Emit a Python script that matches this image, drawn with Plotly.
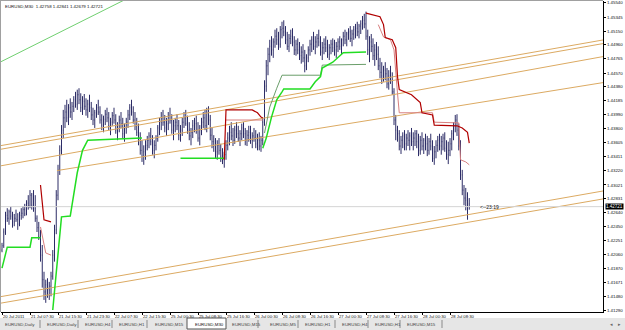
import plotly.graph_objects as go

# ---------------- data (EURUSD, M30 bars) ----------------
bar_open = [
    1.4212, 1.4218, 1.4237, 1.4260, 1.4256, 1.4265, 1.4259, 1.4251, 1.4256, 1.4254,
    1.4248, 1.4260, 1.4263, 1.4268, 1.4262, 1.4277, 1.4273, 1.4288, 1.4274, 1.4270,
    1.4256, 1.4243, 1.4231, 1.4205, 1.4171, 1.4154, 1.4164, 1.4157, 1.4162, 1.4176,
    1.4205, 1.4240, 1.4288, 1.4323, 1.4350, 1.4378, 1.4395, 1.4403, 1.4395, 1.4409,
    1.4403, 1.4411, 1.4420, 1.4414, 1.4427, 1.4420, 1.4409, 1.4418, 1.4411, 1.4406,
    1.4414, 1.4409, 1.4399, 1.4392, 1.4402, 1.4409, 1.4403, 1.4392, 1.4385, 1.4393,
    1.4400, 1.4395, 1.4384, 1.4389, 1.4398, 1.4392, 1.4378, 1.4384, 1.4392, 1.4387,
    1.4373, 1.4381, 1.4389, 1.4399, 1.4409, 1.4403, 1.4392, 1.4384, 1.4375, 1.4364,
    1.4350, 1.4342, 1.4348, 1.4357, 1.4364, 1.4370, 1.4362, 1.4350, 1.4357, 1.4367,
    1.4381, 1.4389, 1.4395, 1.4389, 1.4381, 1.4387, 1.4398, 1.4392, 1.4378, 1.4384,
    1.4389, 1.4384, 1.4371, 1.4378, 1.4389, 1.4395, 1.4387, 1.4378, 1.4370, 1.4375,
    1.4384, 1.4387, 1.4378, 1.4367, 1.4378, 1.4389, 1.4395, 1.4384, 1.4403, 1.4392,
    1.4371, 1.4362, 1.4356, 1.4348, 1.4357, 1.4350, 1.4342, 1.4337, 1.4344, 1.4357,
    1.4367, 1.4375, 1.4370, 1.4364, 1.4378, 1.4373, 1.4367, 1.4373, 1.4381, 1.4373,
    1.4364, 1.4371, 1.4375, 1.4364, 1.4370, 1.4367, 1.4359, 1.4364, 1.4356, 1.4364,
    1.4389, 1.4439, 1.4467, 1.4483, 1.4494, 1.4489, 1.4500, 1.4508, 1.4503, 1.4497,
    1.4517, 1.4519, 1.4514, 1.4503, 1.4494, 1.4505, 1.4508, 1.4500, 1.4489, 1.4497,
    1.4489, 1.4481, 1.4486, 1.4478, 1.4467, 1.4478, 1.4489, 1.4497, 1.4503, 1.4494,
    1.4500, 1.4505, 1.4500, 1.4486, 1.4492, 1.4497, 1.4492, 1.4483, 1.4492, 1.4497,
    1.4492, 1.4489, 1.4494, 1.4500, 1.4494, 1.4503, 1.4508, 1.4503, 1.4511, 1.4514,
    1.4505, 1.4511, 1.4517, 1.4519, 1.4514, 1.4522, 1.4525, 1.4530, 1.4525, 1.4508,
    1.4489, 1.4500, 1.4494, 1.4481, 1.4489, 1.4483, 1.4467, 1.4458, 1.4453, 1.4461,
    1.4456, 1.4442, 1.4453, 1.4447, 1.4431, 1.4392, 1.4378, 1.4373, 1.4356, 1.4364,
    1.4370, 1.4359, 1.4367, 1.4364, 1.4370, 1.4362, 1.4367, 1.4373, 1.4362, 1.4350,
    1.4364, 1.4356, 1.4364, 1.4359, 1.4350, 1.4362, 1.4356, 1.4339, 1.4348, 1.4357,
    1.4364, 1.4356, 1.4362, 1.4367, 1.4353, 1.4344, 1.4350, 1.4359, 1.4373, 1.4384,
    1.4392, 1.4378, 1.4356, 1.4316, 1.4295, 1.4284, 1.4281, 1.42758,
]
bar_high = [
    1.4222, 1.4242, 1.4265, 1.4270, 1.4268, 1.4272, 1.4265, 1.4262, 1.4268, 1.4263,
    1.4265, 1.4270, 1.4273, 1.4276, 1.4281, 1.4288, 1.4295, 1.4291, 1.4295, 1.4288,
    1.4260, 1.4251, 1.4240, 1.4219, 1.4182, 1.4171, 1.4173, 1.4168, 1.4182, 1.4212,
    1.4247, 1.4295, 1.4330, 1.4357, 1.4385, 1.4406, 1.4413, 1.4420, 1.4414, 1.4422,
    1.4417, 1.4425, 1.4431, 1.4434, 1.4436, 1.4429, 1.4425, 1.4428, 1.4422, 1.4420,
    1.4427, 1.4417, 1.4409, 1.4406, 1.4414, 1.4420, 1.4411, 1.4400, 1.4398, 1.4406,
    1.4409, 1.4403, 1.4395, 1.4403, 1.4409, 1.4400, 1.4389, 1.4398, 1.4403, 1.4395,
    1.4387, 1.4395, 1.4406, 1.4414, 1.4420, 1.4411, 1.4403, 1.4395, 1.4387, 1.4375,
    1.4364, 1.4357, 1.4364, 1.4370, 1.4375, 1.4381, 1.4371, 1.4364, 1.4371, 1.4385,
    1.4395, 1.4403, 1.4406, 1.4399, 1.4395, 1.4403, 1.4409, 1.4400, 1.4392, 1.4395,
    1.4400, 1.4392, 1.4385, 1.4395, 1.4403, 1.4406, 1.4398, 1.4389, 1.4381, 1.4392,
    1.4395, 1.4398, 1.4389, 1.4385, 1.4395, 1.4403, 1.4406, 1.4409, 1.4411, 1.4399,
    1.4381, 1.4371, 1.4367, 1.4364, 1.4367, 1.4359, 1.4353, 1.4348, 1.4364, 1.4375,
    1.4384, 1.4389, 1.4381, 1.4384, 1.4389, 1.4384, 1.4378, 1.4387, 1.4389, 1.4381,
    1.4378, 1.4384, 1.4384, 1.4375, 1.4381, 1.4378, 1.4373, 1.4375, 1.4370, 1.4395,
    1.4447, 1.4475, 1.4492, 1.4503, 1.4508, 1.4505, 1.4517, 1.4519, 1.4514, 1.4522,
    1.4528, 1.4530, 1.4522, 1.4514, 1.4511, 1.4517, 1.4519, 1.4508, 1.4503, 1.4505,
    1.4500, 1.4494, 1.4497, 1.4489, 1.4483, 1.4494, 1.4503, 1.4508, 1.4514, 1.4508,
    1.4511, 1.4517, 1.4508, 1.4500, 1.4505, 1.4508, 1.4503, 1.4497, 1.4503, 1.4505,
    1.4503, 1.4500, 1.4505, 1.4508, 1.4505, 1.4514, 1.4517, 1.4514, 1.4519, 1.4522,
    1.4517, 1.4522, 1.4525, 1.4528, 1.4525, 1.4530, 1.4536, 1.4539, 1.4542, 1.4517,
    1.4508, 1.4511, 1.4505, 1.4497, 1.4500, 1.4494, 1.4478, 1.4472, 1.4467, 1.4472,
    1.4464, 1.4461, 1.4467, 1.4458, 1.4436, 1.4399, 1.4384, 1.4378, 1.4370, 1.4375,
    1.4378, 1.4373, 1.4378, 1.4375, 1.4381, 1.4375, 1.4378, 1.4378, 1.4373, 1.4370,
    1.4375, 1.4367, 1.4373, 1.4370, 1.4367, 1.4373, 1.4364, 1.4356, 1.4364, 1.4370,
    1.4373, 1.4370, 1.4373, 1.4375, 1.4364, 1.4362, 1.4367, 1.4378, 1.4389, 1.4399,
    1.4400, 1.4387, 1.4364, 1.4323, 1.4302, 1.4298, 1.4292, 1.42840,
]
bar_low = [
    1.4209, 1.4215, 1.4233, 1.4251, 1.4247, 1.4254, 1.4243, 1.4245, 1.4251, 1.4240,
    1.4245, 1.4254, 1.4256, 1.4259, 1.4260, 1.4268, 1.4270, 1.4268, 1.4265, 1.4251,
    1.4237, 1.4226, 1.4196, 1.4160, 1.4143, 1.4139, 1.4146, 1.4143, 1.4148, 1.4171,
    1.4196, 1.4234, 1.4281, 1.4316, 1.4344, 1.4367, 1.4381, 1.4389, 1.4385, 1.4395,
    1.4392, 1.4403, 1.4409, 1.4406, 1.4414, 1.4403, 1.4399, 1.4406, 1.4398, 1.4395,
    1.4403, 1.4392, 1.4385, 1.4381, 1.4395, 1.4399, 1.4387, 1.4378, 1.4375, 1.4385,
    1.4389, 1.4378, 1.4371, 1.4384, 1.4387, 1.4373, 1.4364, 1.4375, 1.4381, 1.4367,
    1.4362, 1.4373, 1.4381, 1.4392, 1.4398, 1.4387, 1.4378, 1.4370, 1.4357, 1.4344,
    1.4334, 1.4330, 1.4337, 1.4350, 1.4353, 1.4357, 1.4344, 1.4339, 1.4350, 1.4362,
    1.4371, 1.4378, 1.4384, 1.4375, 1.4370, 1.4378, 1.4387, 1.4373, 1.4364, 1.4375,
    1.4378, 1.4364, 1.4362, 1.4370, 1.4381, 1.4384, 1.4373, 1.4364, 1.4357, 1.4367,
    1.4375, 1.4373, 1.4362, 1.4357, 1.4371, 1.4381, 1.4378, 1.4375, 1.4385, 1.4364,
    1.4353, 1.4348, 1.4339, 1.4337, 1.4344, 1.4334, 1.4331, 1.4326, 1.4337, 1.4350,
    1.4357, 1.4364, 1.4356, 1.4359, 1.4367, 1.4362, 1.4356, 1.4364, 1.4367, 1.4357,
    1.4356, 1.4362, 1.4359, 1.4353, 1.4362, 1.4353, 1.4350, 1.4350, 1.4348, 1.4357,
    1.4384, 1.4431, 1.4454, 1.4472, 1.4481, 1.4478, 1.4492, 1.4496, 1.4489, 1.4492,
    1.4505, 1.4508, 1.4497, 1.4489, 1.4486, 1.4497, 1.4494, 1.4482, 1.4481, 1.4483,
    1.4475, 1.4470, 1.4472, 1.4458, 1.4461, 1.4472, 1.4481, 1.4486, 1.4489, 1.4483,
    1.4492, 1.4494, 1.4481, 1.4475, 1.4483, 1.4486, 1.4478, 1.4475, 1.4483, 1.4486,
    1.4481, 1.4478, 1.4486, 1.4489, 1.4483, 1.4494, 1.4497, 1.4494, 1.4503, 1.4500,
    1.4494, 1.4503, 1.4505, 1.4508, 1.4505, 1.4511, 1.4517, 1.4519, 1.4503, 1.4482,
    1.4472, 1.4486, 1.4475, 1.4467, 1.4475, 1.4461, 1.4450, 1.4442, 1.4445, 1.4447,
    1.4436, 1.4434, 1.4442, 1.4427, 1.4385, 1.4364, 1.4362, 1.4350, 1.4345, 1.4353,
    1.4350, 1.4350, 1.4356, 1.4350, 1.4356, 1.4350, 1.4356, 1.4353, 1.4342, 1.4344,
    1.4350, 1.4345, 1.4350, 1.4342, 1.4344, 1.4350, 1.4334, 1.4330, 1.4339, 1.4348,
    1.4350, 1.4344, 1.4350, 1.4348, 1.4337, 1.4331, 1.4342, 1.4350, 1.4364, 1.4375,
    1.4370, 1.4350, 1.4309, 1.4288, 1.4274, 1.4267, 1.4254, 1.42679,
]
bar_close = [
    1.4218, 1.4237, 1.4260, 1.4256, 1.4265, 1.4259, 1.4251, 1.4256, 1.4254, 1.4248,
    1.4260, 1.4263, 1.4268, 1.4262, 1.4277, 1.4273, 1.4288, 1.4274, 1.4270, 1.4256,
    1.4243, 1.4231, 1.4205, 1.4171, 1.4154, 1.4164, 1.4157, 1.4162, 1.4176, 1.4205,
    1.4240, 1.4288, 1.4323, 1.4350, 1.4378, 1.4395, 1.4403, 1.4395, 1.4409, 1.4403,
    1.4411, 1.4420, 1.4414, 1.4427, 1.4420, 1.4409, 1.4418, 1.4411, 1.4406, 1.4414,
    1.4409, 1.4399, 1.4392, 1.4402, 1.4409, 1.4403, 1.4392, 1.4385, 1.4393, 1.4400,
    1.4395, 1.4384, 1.4389, 1.4398, 1.4392, 1.4378, 1.4384, 1.4392, 1.4387, 1.4373,
    1.4381, 1.4389, 1.4399, 1.4409, 1.4403, 1.4392, 1.4384, 1.4375, 1.4364, 1.4350,
    1.4342, 1.4348, 1.4357, 1.4364, 1.4370, 1.4362, 1.4350, 1.4357, 1.4367, 1.4381,
    1.4389, 1.4395, 1.4389, 1.4381, 1.4387, 1.4398, 1.4392, 1.4378, 1.4384, 1.4389,
    1.4384, 1.4371, 1.4378, 1.4389, 1.4395, 1.4387, 1.4378, 1.4370, 1.4375, 1.4384,
    1.4387, 1.4378, 1.4367, 1.4378, 1.4389, 1.4395, 1.4384, 1.4403, 1.4392, 1.4371,
    1.4362, 1.4356, 1.4348, 1.4357, 1.4350, 1.4342, 1.4337, 1.4344, 1.4357, 1.4367,
    1.4375, 1.4370, 1.4364, 1.4378, 1.4373, 1.4367, 1.4373, 1.4381, 1.4373, 1.4364,
    1.4371, 1.4375, 1.4364, 1.4370, 1.4367, 1.4359, 1.4364, 1.4356, 1.4364, 1.4389,
    1.4439, 1.4467, 1.4483, 1.4494, 1.4489, 1.4500, 1.4508, 1.4503, 1.4497, 1.4517,
    1.4519, 1.4514, 1.4503, 1.4494, 1.4505, 1.4508, 1.4500, 1.4489, 1.4497, 1.4489,
    1.4481, 1.4486, 1.4478, 1.4467, 1.4478, 1.4489, 1.4497, 1.4503, 1.4494, 1.4500,
    1.4505, 1.4500, 1.4486, 1.4492, 1.4497, 1.4492, 1.4483, 1.4492, 1.4497, 1.4492,
    1.4489, 1.4494, 1.4500, 1.4494, 1.4503, 1.4508, 1.4503, 1.4511, 1.4514, 1.4505,
    1.4511, 1.4517, 1.4519, 1.4514, 1.4522, 1.4525, 1.4530, 1.4525, 1.4508, 1.4489,
    1.4500, 1.4494, 1.4481, 1.4489, 1.4483, 1.4467, 1.4458, 1.4453, 1.4461, 1.4456,
    1.4442, 1.4453, 1.4447, 1.4431, 1.4392, 1.4378, 1.4373, 1.4356, 1.4364, 1.4370,
    1.4359, 1.4367, 1.4364, 1.4370, 1.4362, 1.4367, 1.4373, 1.4362, 1.4350, 1.4364,
    1.4356, 1.4364, 1.4359, 1.4350, 1.4362, 1.4356, 1.4339, 1.4348, 1.4357, 1.4364,
    1.4356, 1.4362, 1.4367, 1.4353, 1.4344, 1.4350, 1.4359, 1.4373, 1.4384, 1.4392,
    1.4378, 1.4356, 1.4316, 1.4295, 1.4284, 1.4281, 1.4276, 1.42721,
]

# x-axis time labels (bar index of each label, label text)
xtick_bars = [0, 16, 32, 48, 64, 80, 96, 112, 128, 144, 160, 176, 192, 208, 224, 240, 256]
xtick_labels = ["20 Jul 2011", "21 Jul 07:30", "21 Jul 15:30", "21 Jul 23:30", "22 Jul 07:30",
                "22 Jul 15:30", "25 Jul 00:30", "25 Jul 08:30", "25 Jul 16:30", "26 Jul 00:30",
                "26 Jul 08:30", "26 Jul 16:30", "27 Jul 00:30", "27 Jul 08:30", "27 Jul 16:30",
                "28 Jul 00:30", "28 Jul 08:30"]

# price axis labels
ytick_vals = [1.45540, 1.45345, 1.45150, 1.44960, 1.44765, 1.44570, 1.44380, 1.44185,
              1.43990, 1.43800, 1.43605, 1.43411, 1.43220, 1.43021, 1.42831, 1.42640,
              1.42450, 1.42251, 1.42060, 1.41870, 1.41671, 1.41480, 1.41290]

last_price = 1.42721
header_text = "EURUSD,M30  1.42758 1.42841 1.42679 1.42721"
timer_text = "<--23:19"

# trend line (light green)
trend_green_x = [-1.14, 73.1]
trend_green_y = [1.4472, 1.4562]

# channel lines: (bar start, price start, bar end, price end)
channel_lines = [
    (-2, 1.4356, 344, 1.4503),
    (-2, 1.4351, 344, 1.4498),
    (-2, 1.4328, 344, 1.4480),
    (31.4, 1.4322, 344, 1.4444),
    (-2, 1.4147, 344, 1.4294),
    (-2, 1.4138, 344, 1.4283),
]

# trailing stop style indicator lines
red_dark_x = [22, 23, 24, 28, None, 127, 128, 143, 146, 148, 149, None,
              208, 216, 218, 219, 223, 225, 226, 227, 234, 239, 240, 246, 247, 260, 263, 266, 267]
red_dark_y = [1.4302, 1.4277, 1.4254, 1.4251, None, 1.4337, 1.4406, 1.4406, 1.4402, 1.4396, 1.4395, None,
              1.4540, 1.4535, 1.4524, 1.4506, 1.4503, 1.4492, 1.4452, 1.4434, 1.4427, 1.4416, 1.4402,
              1.4399, 1.4385, 1.4384, 1.4381, 1.4375, 1.4360]
red_light_x = [22, 25, 28, None, 128, 149, None,
               215, 218, 222, 224, 226, 227, 246, 247, 261, 262, 265, 267]
red_light_y = [1.4244, 1.4208, 1.4205, None, 1.4392, 1.4392, None,
               1.4524, 1.4507, 1.4503, 1.4489, 1.4429, 1.4402, 1.4402, 1.4389, 1.4388, 1.4337, 1.4334, 1.4330]
green_bright_x = [0, 3, 16, 17, 22, None, 29, 34, 39, 43, 46, 49, 80, None, 102, 127, None,
                  149, 151, 154, 157, 160, 161, 176, 179, 182, 183, 189, 195, 208]
green_bright_y = [1.4187, 1.4216, 1.4216, 1.4229, 1.4229, None, 1.4129, 1.4258, 1.4259, 1.4319, 1.4350,
                  1.4364, 1.4367, None, 1.4339, 1.4339, None,
                  1.4353, 1.4367, 1.4396, 1.4420, 1.4431, 1.4435, 1.4435, 1.4445, 1.4452, 1.4464,
                  1.4472, 1.4485, 1.4486]
green_dark_x = [150, 153, 157, 160, 182, 183, 208]
green_dark_y = [1.4374, 1.4410, 1.4436, 1.4454, 1.4454, 1.4468, 1.4469]

tab_labels = ["EURUSD,Daily", "EURUSD,Daily", "EURUSD,H4", "EURUSD,H1", "EURUSD,M15", "EURUSD,M30",
              "EURUSD,M15", "EURUSD,M5", "EURUSD,H1", "EURUSD,H4", "EURUSD,H1", "EURUSD,M15"]
active_tab = 5

# ---------------- layout geometry (pixels) ----------------
W, H = 625, 330
PL, PR, PT, PB = 1, 603, 1, 312          # plot area in pixels
X_MIN = -1 / 1.75
X_MAX = X_MIN + (PR - PL) / 1.75
Y_MAX = 1.45567
Y_MIN = 1.41263
FONT = "Liberation Sans"


def px(xp):
    return (xp - PL) / (PR - PL)


def py(yp):
    return (PB - yp) / (PB - PT)


fig = go.Figure()

# channel lines
for (x0, y0, x1, y1) in channel_lines:
    fig.add_trace(go.Scatter(x=[x0, x1], y=[y0, y1], mode="lines",
                             line=dict(color="#dcaa62", width=1), hoverinfo="skip"))

fig.add_trace(go.Scatter(x=trend_green_x, y=trend_green_y, mode="lines",
                         line=dict(color="#6fcf6f", width=1), hoverinfo="skip"))

# bid line
fig.add_trace(go.Scatter(x=[X_MIN - 1, X_MAX + 1], y=[last_price, last_price], mode="lines",
                         line=dict(color="#d4d4d4", width=1), hoverinfo="skip"))

fig.add_trace(go.Scatter(x=green_dark_x, y=green_dark_y, mode="lines",
                         line=dict(color="#6a9e6a", width=1), hoverinfo="skip"))
fig.add_trace(go.Scatter(x=red_light_x, y=red_light_y, mode="lines",
                         line=dict(color="#d88080", width=1), hoverinfo="skip"))

fig.add_trace(go.Ohlc(x=list(range(len(bar_close))), open=bar_open, high=bar_high,
                      low=bar_low, close=bar_close, tickwidth=0.2,
                      increasing=dict(line=dict(color="#2c2c66", width=1)),
                      decreasing=dict(line=dict(color="#2c2c66", width=1)),
                      hoverinfo="skip"))

fig.add_trace(go.Scatter(x=green_bright_x, y=green_bright_y, mode="lines",
                         line=dict(color="#22dd22", width=1.5), hoverinfo="skip"))
fig.add_trace(go.Scatter(x=red_dark_x, y=red_dark_y, mode="lines",
                         line=dict(color="#b00000", width=1.2), hoverinfo="skip"))

shapes = []
annotations = []

# left / top gray border
shapes.append(dict(type="line", xref="paper", yref="paper", x0=px(0.5), x1=px(0.5), y0=py(0), y1=py(PB),
                   line=dict(color="#a0a0a0", width=1)))
shapes.append(dict(type="line", xref="paper", yref="paper", x0=px(0), x1=px(PR), y0=py(0.5), y1=py(0.5),
                   line=dict(color="#a0a0a0", width=1)))

# tab strip
shapes.append(dict(type="rect", xref="paper", yref="paper", x0=px(0), x1=px(W), y0=py(318), y1=py(H),
                   fillcolor="#e6e6e6", line=dict(width=0), layer="below"))
tab_left_px = [3, 45, 83, 117, 153, 193, 230, 268, 303, 340, 373, 405]
sep_px = [40, 78, 112, 147, 258, 298, 335, 368, 400, 442]
for s in sep_px:
    shapes.append(dict(type="line", xref="paper", yref="paper", x0=px(s), x1=px(s), y0=py(320), y1=py(328),
                       line=dict(color="#8a8a8a", width=1)))
shapes.append(dict(type="rect", xref="paper", yref="paper", x0=px(187), x1=px(226), y0=py(318), y1=py(329),
                   fillcolor="white", line=dict(color="#555555", width=1)))
for k, (lab, xl) in enumerate(zip(tab_labels, tab_left_px)):
    annotations.append(dict(xref="paper", yref="paper", x=px(xl), y=py(324), xanchor="left", yanchor="middle",
                            text=lab, showarrow=False,
                            font=dict(family=FONT, size=4.4, color="#111111" if k == active_tab else "#444444")))
for ch, xa in (("◂", 611), ("▸", 619)):
    annotations.append(dict(xref="paper", yref="paper", x=px(xa), y=py(324), xanchor="center", yanchor="middle",
                            text=ch, showarrow=False, font=dict(family="DejaVu Sans", size=5, color="#666666")))

# header
annotations.append(dict(xref="paper", yref="paper", x=px(3), y=py(2), xanchor="left", yanchor="top",
                        text=header_text, showarrow=False, font=dict(family=FONT, size=4.4, color="#111111")))
# timer
annotations.append(dict(xref="x", yref="y", x=272, y=last_price, xanchor="left", yanchor="middle",
                        text=timer_text, showarrow=False, font=dict(family=FONT, size=5, color="#111111")))
# price box
annotations.append(dict(xref="paper", yref="y", x=px(PR + 2), y=last_price, xanchor="left", yanchor="middle",
                        text=f"{last_price:.5f}", showarrow=False, bgcolor="black", borderpad=0,
                        font=dict(family=FONT, size=4.5, color="white")))

fig.update_layout(
    width=W, height=H,
    margin=dict(l=PL, r=W - PR, t=PT, b=H - PB, pad=0),
    paper_bgcolor="white", plot_bgcolor="white",
    showlegend=False,
    shapes=shapes, annotations=annotations,
)
fig.update_xaxes(range=[X_MIN, X_MAX], showgrid=False, zeroline=False,
                 rangeslider=dict(visible=False),
                 tickmode="array", tickvals=xtick_bars, ticktext=xtick_labels,
                 ticks="outside", ticklen=2, tickcolor="black", ticklabelstandoff=0,
                 ticklabelposition="outside right", tickangle=0,
                 tickfont=dict(family=FONT, size=4.2, color="#111111"),
                 showline=True, linecolor="black", linewidth=1)
fig.update_yaxes(range=[Y_MIN, Y_MAX], side="right", showgrid=False, zeroline=False,
                 tickmode="array", tickvals=ytick_vals, ticktext=[f"{v:.5f}" for v in ytick_vals],
                 ticks="outside", ticklen=2, tickcolor="black",
                 tickfont=dict(family=FONT, size=4.4, color="#111111"),
                 showline=True, linecolor="black", linewidth=1)

fig.write_html("out.html")
